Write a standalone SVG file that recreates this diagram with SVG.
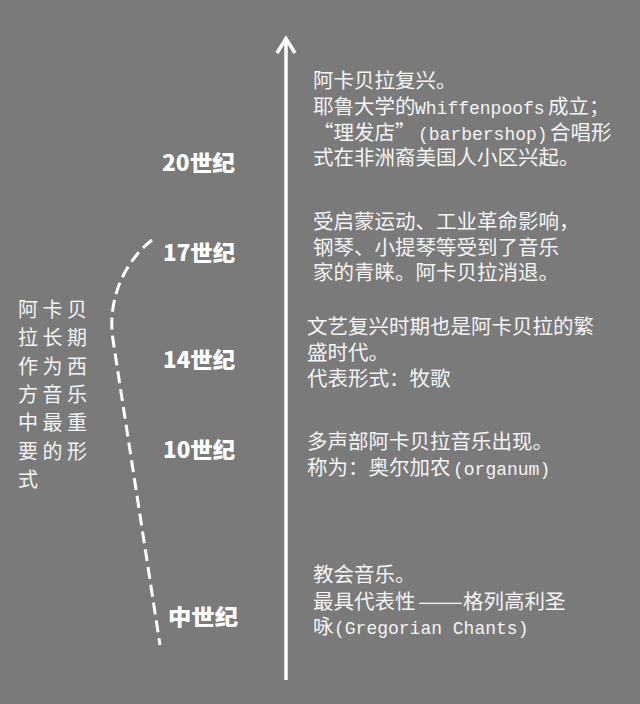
<svg xmlns="http://www.w3.org/2000/svg" width="640" height="704" viewBox="0 0 640 704">
  <style>
    .bg { fill: #7a7a7a; }
    .ev { font-family: "Noto Sans CJK SC", "Liberation Sans", sans-serif; font-size: 20.5px; fill: #f4f4f4; }
    .lat { font-family: "Liberation Mono", "Noto Sans CJK SC", monospace; font-size: 18px; }
    .cent { font-family: "Noto Sans CJK SC", "Liberation Sans", sans-serif; font-size: 22px; font-weight: 900; fill: #ffffff; }
    .side { font-family: "Noto Sans CJK SC", "Liberation Sans", sans-serif; font-size: 20px; fill: #f4f4f4; letter-spacing: 4.5px; }
    .axis { stroke: #ffffff; stroke-width: 3.5; fill: none; }
    .dash { stroke: #ffffff; stroke-width: 3; fill: none; stroke-dasharray: 12 6; }
  </style>
  <rect class="bg" x="0" y="0" width="640" height="704"/>

  <g id="connectors">
    <line class="axis" x1="286" y1="40" x2="286" y2="680"/>
    <polyline class="axis" points="277,53 286,38.5 295,53" stroke-linejoin="miter"/>
    <path class="dash" d="M152,240 C124,262 107,300 113,340 L160,645"/>
  </g>

  <g id="side-label">
    <text class="side" x="18" y="317">阿卡贝</text>
    <text class="side" x="18" y="345">拉长期</text>
    <text class="side" x="18" y="374">作为西</text>
    <text class="side" x="18" y="402">方音乐</text>
    <text class="side" x="18" y="430">中最重</text>
    <text class="side" x="18" y="459">要的形</text>
    <text class="side" x="18" y="487">式</text>
  </g>

  <g id="century-20"><text class="cent" x="162" y="171" textLength="73" lengthAdjust="spacingAndGlyphs">20世纪</text></g>
  <g id="century-17"><text class="cent" x="163" y="261" textLength="72" lengthAdjust="spacingAndGlyphs">17世纪</text></g>
  <g id="century-14"><text class="cent" x="163" y="368" textLength="72" lengthAdjust="spacingAndGlyphs">14世纪</text></g>
  <g id="century-10"><text class="cent" x="163" y="458" textLength="72" lengthAdjust="spacingAndGlyphs">10世纪</text></g>
  <g id="century-medieval"><text class="cent" x="168" y="625" textLength="70" lengthAdjust="spacingAndGlyphs">中世纪</text></g>

  <g id="event-20">
    <text class="ev" x="313" y="88">阿卡贝拉复兴。</text>
    <text class="ev" x="313" y="114">耶鲁大学的<tspan class="lat" x="415">Whiffenpoofs</tspan><tspan x="548">成立；</tspan></text>
    <text class="ev" x="313" y="140">“理发店”<tspan class="lat" x="418">(barbershop)</tspan><tspan x="550">合唱形</tspan></text>
    <text class="ev" x="313" y="165">式在非洲裔美国人小区兴起。</text>
  </g>

  <g id="event-17">
    <text class="ev" x="313" y="229">受启蒙运动、工业革命影响，</text>
    <text class="ev" x="313" y="255">钢琴、小提琴等受到了音乐</text>
    <text class="ev" x="313" y="280">家的青睐。阿卡贝拉消退。</text>
  </g>

  <g id="event-14">
    <text class="ev" x="307" y="334">文艺复兴时期也是阿卡贝拉的繁</text>
    <text class="ev" x="307" y="360">盛时代。</text>
    <text class="ev" x="307" y="386">代表形式：牧歌</text>
  </g>

  <g id="event-10">
    <text class="ev" x="307" y="449">多声部阿卡贝拉音乐出现。</text>
    <text class="ev" x="307" y="475">称为：奥尔加农<tspan class="lat" x="453">(organum)</tspan></text>
  </g>

  <g id="event-medieval">
    <text class="ev" x="313" y="582">教会音乐。</text>
    <text class="ev" x="313" y="609">最具代表性<tspan x="418" textLength="45" lengthAdjust="spacingAndGlyphs">——</tspan><tspan x="463">格列高利圣</tspan></text>
    <text class="ev" x="313" y="634">咏<tspan class="lat" x="334">(Gregorian Chants)</tspan></text>
  </g>
</svg>
